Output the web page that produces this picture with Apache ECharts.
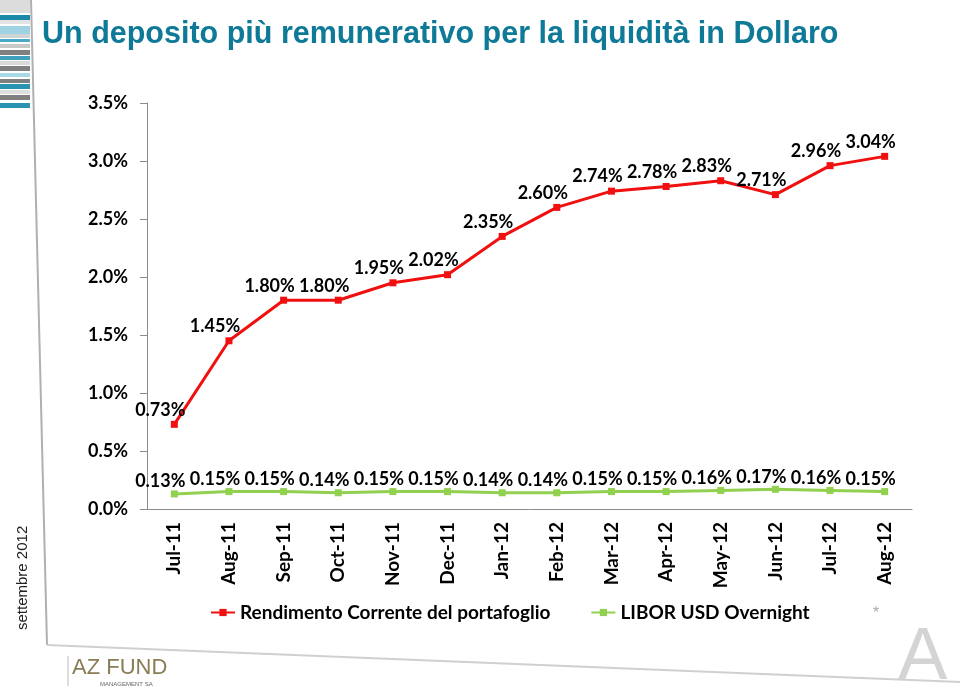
<!DOCTYPE html>
<html><head><meta charset="utf-8">
<script src="https://cdn.jsdelivr.net/npm/echarts@6/dist/echarts.min.js"></script>
<style>html,body{margin:0;padding:0;background:#fff}#c{width:960px;height:692px}</style>
</head><body><div id="c"></div>
<script>
const categories = ['Jul-11','Aug-11','Sep-11','Oct-11','Nov-11','Dec-11','Jan-12','Feb-12','Mar-12','Apr-12','May-12','Jun-12','Jul-12','Aug-12'];
const rendimento = [0.73,1.45,1.80,1.80,1.95,2.02,2.35,2.60,2.74,2.78,2.83,2.71,2.96,3.04];
const libor = [0.13,0.15,0.15,0.14,0.15,0.15,0.14,0.14,0.15,0.15,0.16,0.17,0.16,0.15];
const seriesNames = ['Rendimento Corrente del portafoglio','LIBOR USD Overnight'];
const titleText = 'Un deposito più remunerativo per la liquidità in Dollaro';

const FONT = 'Lato, "Open Sans", sans-serif';
const chart = echarts.init(document.getElementById('c'));
const stripes = [
 ['#dcdcdc',0,13],['#1b8aa8',15,5],['#e3e3e3',20,4],['#9fd3e3',26,8],['#cfd4d6',34,4],['#4aa9c4',39,3],
 ['#c9c9c9',44,4],['#808080',50,5],['#3f9fbd',56,4],['#dadada',61,4],['#7f7f7f',66,5],['#a9d8e6',73,4],
 ['#7f7f7f',79,4],['#2a93b2',84,5],['#dedede',90,4],['#808080',95,5],['#2a93b2',103,5]
];
const graphics = [];
stripes.forEach(s=>graphics.push({type:'rect',shape:{x:0,y:s[1],width:30,height:s[2]},style:{fill:s[0]},silent:true}));
graphics.push({type:'line',shape:{x1:31,y1:0,x2:47,y2:645},style:{stroke:'#b0b0b0',lineWidth:2},silent:true});
graphics.push({type:'line',shape:{x1:47,y1:645,x2:960,y2:682},style:{stroke:'#d0d0d0',lineWidth:2},silent:true});
graphics.push({type:'text',x:42,y:19,style:{text:titleText,fill:'#0e7a97',font:'bold 30.5px "Liberation Sans", Arial, sans-serif'},silent:true});
graphics.push({type:'text',x:15,y:630,rotation:Math.PI/2,style:{text:'settembre 2012',fill:'#222',font:'15px "Liberation Sans", Arial, sans-serif'},silent:true});
graphics.push({type:'text',x:72,y:657,style:{text:'AZ FUND',fill:'#8a7d55',font:'22px "Liberation Sans", Arial, sans-serif'},silent:true});
graphics.push({type:'text',x:100,y:681,style:{text:'MANAGEMENT SA',fill:'#666',font:'6px "Liberation Sans", Arial, sans-serif'},silent:true});
graphics.push({type:'line',shape:{x1:68,y1:656,x2:68,y2:686},style:{stroke:'#bbb',lineWidth:1},silent:true});
graphics.push({type:'text',x:873,y:606,style:{text:'*',fill:'#aaa',font:'16px "Liberation Sans", Arial, sans-serif'},silent:true});
graphics.push({type:'text',x:898,y:622,style:{text:'A',fill:'#d4d4d4',font:'74px "Liberation Sans", Arial, sans-serif'},silent:true});

chart.setOption({
  animation:false,
  backgroundColor:'#fff',
  textStyle:{fontFamily:FONT},
  graphic:graphics,
  grid:{left:147,right:48,top:103,bottom:183},
  legend:{
    left:205, top:598, itemGap:40, itemWidth:24, itemHeight:9,
    textStyle:{fontFamily:FONT,fontWeight:'bold',fontSize:19,color:'#000'},
    data:seriesNames
  },
  xAxis:{
    type:'category', data:categories, boundaryGap:true,
    axisLine:{lineStyle:{color:'#8c8c8c',width:1}},
    axisTick:{show:false},
    axisLabel:{rotate:90,fontFamily:FONT,fontWeight:'bold',fontSize:19,color:'#000',margin:13}
  },
  yAxis:{
    type:'value', min:0, max:3.5, interval:0.5,
    splitLine:{show:false},
    axisLine:{show:true,lineStyle:{color:'#8c8c8c',width:1}},
    axisTick:{show:true,length:7,lineStyle:{color:'#8c8c8c'}},
    axisLabel:{fontFamily:FONT,fontWeight:'bold',fontSize:18,color:'#000',margin:19,formatter:v=>v.toFixed(1)+'%'}
  },
  series:[
    {name:seriesNames[0],type:'line',data:rendimento,symbol:'rect',symbolSize:7,
     itemStyle:{color:'#f01010'},lineStyle:{color:'#f01010',width:3},
     label:{show:true,position:'top',distance:2,offset:[-14,0],fontFamily:FONT,fontWeight:'bold',fontSize:18,color:'#000',formatter:p=>p.value.toFixed(2)+'%'}},
    {name:seriesNames[1],type:'line',data:libor,symbol:'rect',symbolSize:7,
     itemStyle:{color:'#92d050'},lineStyle:{color:'#92d050',width:3},
     label:{show:true,position:'top',distance:0,offset:[-14,0],fontFamily:FONT,fontWeight:'bold',fontSize:18,color:'#000',formatter:p=>p.value.toFixed(2)+'%'}}
  ]
});
</script></body></html>
